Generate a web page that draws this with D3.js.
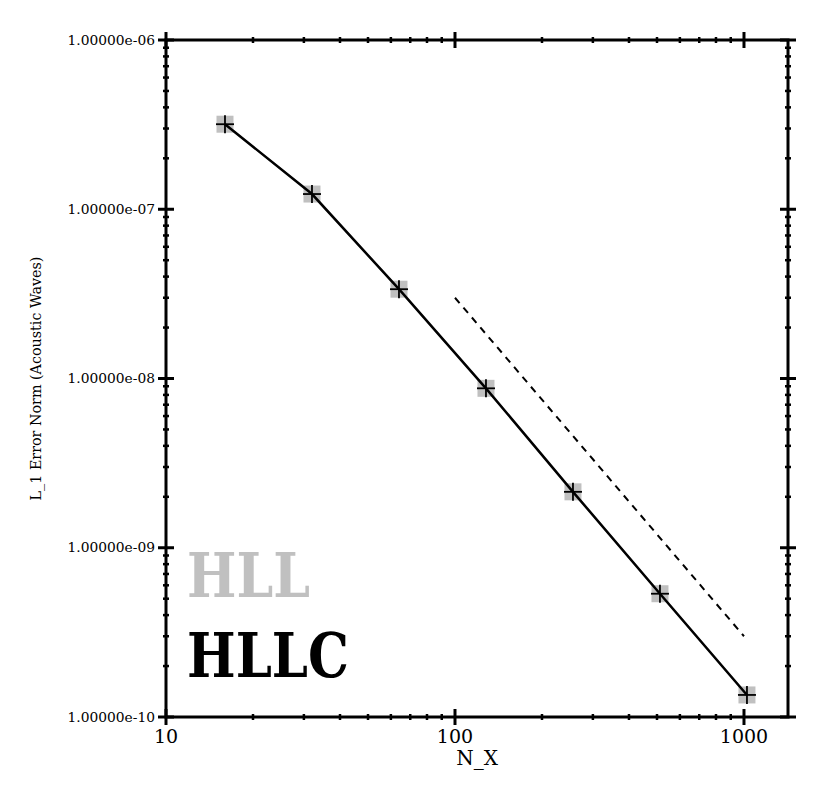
<!DOCTYPE html>
<html>
<head>
<meta charset="utf-8">
<script src="https://cdn.jsdelivr.net/npm/d3@7"></script>
<style>
  body { margin: 0; background: #fff; }
  text { font-family: "DejaVu Serif", serif; }
</style>
</head>
<body>
<div id="chart"></div>
<script>
// resolution and error values
var nx = [16, 32, 64, 128, 256, 512, 1024];
var hllc = [3.18e-7, 1.23e-7, 3.37e-8, 8.75e-9, 2.14e-9, 5.35e-10, 1.35e-10];
var hll = [3.18e-7, 1.23e-7, 3.37e-8, 8.75e-9, 2.14e-9, 5.35e-10, 1.35e-10];
// second order reference slope
var refX = [100, 1000];
var refY = [3.0e-8, 3.0e-10];
var xTicks = [10, 100, 1000];
var yTicks = [1e-6, 1e-7, 1e-8, 1e-9, 1e-10];

var width = 830, height = 796;
var mLeft = 166, mRight = 788, mTop = 40, mBottom = 717;

var svg = d3.select("#chart").append("svg")
    .attr("width", width)
    .attr("height", height);

var x = d3.scaleLog().domain([10, 1420]).range([mLeft, mRight]);
var y = d3.scaleLog().domain([1e-10, 1e-6]).range([mBottom, mTop]);

// minor ticks
var xMinor = [];
[10, 100, 1000].forEach(d => { for (let k = 2; k <= 9; k++) if (d * k <= 1420) xMinor.push(d * k); });
var yMinor = [];
[1e-10, 1e-9, 1e-8, 1e-7].forEach(d => { for (let k = 2; k <= 9; k++) yMinor.push(d * k); });

var frame = svg.append("g").attr("stroke", "#000");

// ticks crossing the frame on all four sides
function hTicks(vals, len, w) {
    [mBottom, mTop].forEach(yy => {
        frame.selectAll(null).data(vals).enter().append("line")
            .attr("x1", d => x(d)).attr("x2", d => x(d))
            .attr("y1", yy - len).attr("y2", yy + len)
            .attr("stroke-width", w);
    });
}
function vTicks(vals, len, w) {
    [mLeft, mRight].forEach(xx => {
        frame.selectAll(null).data(vals).enter().append("line")
            .attr("y1", d => y(d)).attr("y2", d => y(d))
            .attr("x1", xx - len).attr("x2", xx + len)
            .attr("stroke-width", w);
    });
}
hTicks(xMinor, 3, 2.5);
hTicks(xTicks, 8, 3);
vTicks(yMinor, 3, 2.5);
vTicks(yTicks, 8, 3);

frame.append("rect")
    .attr("x", mLeft).attr("y", mTop)
    .attr("width", mRight - mLeft).attr("height", mBottom - mTop)
    .attr("fill", "none")
    .attr("stroke-width", 3);

// tick labels
svg.selectAll("text.xt").data(xTicks).enter().append("text")
    .attr("class", "xt")
    .attr("x", d => x(d)).attr("y", 743)
    .attr("text-anchor", "middle")
    .attr("font-size", 19)
    .text(d => d);

svg.selectAll("text.yt").data(yTicks).enter().append("text")
    .attr("class", "yt")
    .attr("x", 155).attr("y", d => y(d) + 4.5)
    .attr("text-anchor", "end")
    .attr("font-size", 13.8)
    .text(d => d3.format(".5e")(d).replace(/e([+-])(\d)$/, "e$10$2"));

svg.append("text")
    .attr("x", (mLeft + mRight) / 2).attr("y", 765)
    .attr("text-anchor", "middle")
    .attr("font-size", 20)
    .text("N_X");

svg.append("text")
    .attr("transform", "translate(41," + ((mTop + mBottom) / 2) + ") rotate(-90)")
    .attr("text-anchor", "middle")
    .attr("font-size", 14.3)
    .text("L_1 Error Norm (Acoustic Waves)");

// reference slope
svg.append("path")
    .datum(d3.zip(refX, refY))
    .attr("d", d3.line().x(d => x(d[0])).y(d => y(d[1])))
    .attr("fill", "none")
    .attr("stroke", "#000")
    .attr("stroke-width", 2)
    .attr("stroke-dasharray", "7,6");

// HLL series (grey squares)
var line = d3.line().x(d => x(d[0])).y(d => y(d[1]));
svg.append("path")
    .datum(d3.zip(nx, hll))
    .attr("d", line)
    .attr("fill", "none")
    .attr("stroke", "#c0c0c0")
    .attr("stroke-width", 2);
svg.selectAll("rect.hll").data(d3.zip(nx, hll)).enter().append("rect")
    .attr("class", "hll")
    .attr("x", d => x(d[0]) - 8.5).attr("y", d => y(d[1]) - 8.5)
    .attr("width", 17).attr("height", 17)
    .attr("fill", "#c0c0c0");

// HLLC series (black line with plus markers)
svg.append("path")
    .datum(d3.zip(nx, hllc))
    .attr("d", line)
    .attr("fill", "none")
    .attr("stroke", "#000")
    .attr("stroke-width", 2.5);
var plus = svg.selectAll("g.hllc").data(d3.zip(nx, hllc)).enter().append("g")
    .attr("class", "hllc")
    .attr("transform", d => "translate(" + x(d[0]) + "," + y(d[1]) + ")")
    .attr("stroke", "#000")
    .attr("stroke-width", 1.8);
plus.append("line").attr("x1", -9).attr("x2", 9);
plus.append("line").attr("y1", -9).attr("y2", 9);

// legend
svg.append("text")
    .attr("x", 187).attr("y", 597)
    .attr("font-size", 62).attr("font-weight", "bold")
    .attr("textLength", 123).attr("lengthAdjust", "spacingAndGlyphs")
    .attr("fill", "#c0c0c0")
    .text("HLL");
svg.append("text")
    .attr("x", 187).attr("y", 677)
    .attr("font-size", 62).attr("font-weight", "bold")
    .attr("textLength", 162).attr("lengthAdjust", "spacingAndGlyphs")
    .attr("fill", "#000")
    .text("HLLC");
</script>
</body>
</html>
